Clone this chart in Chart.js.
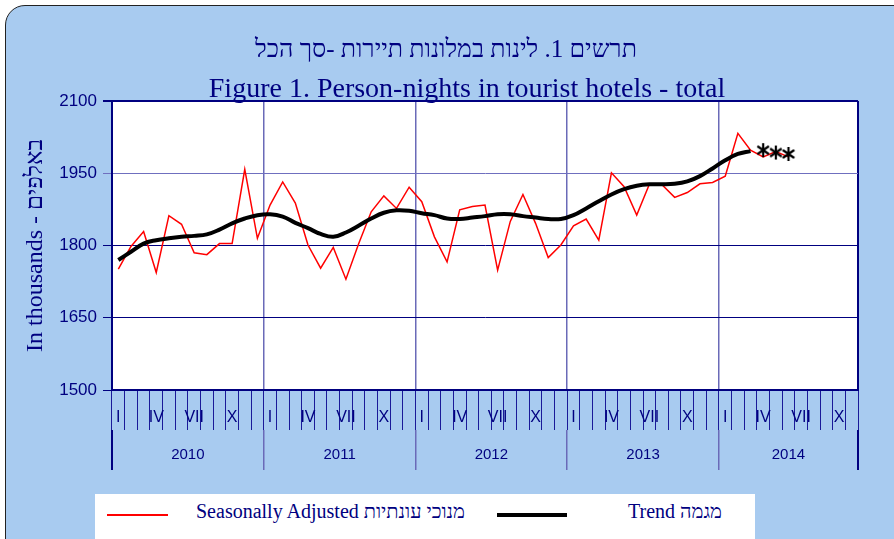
<!DOCTYPE html>
<html>
<head>
<meta charset="utf-8">
<script src="https://cdn.jsdelivr.net/npm/chart.js@4.4.0/dist/chart.umd.min.js"></script>
<style>
  html, body { margin: 0; padding: 0; background: #fff; }
  body { width: 894px; height: 539px; overflow: hidden; position: relative; }
  #frame { position: absolute; left: 5px; top: 5px; width: 910px; height: 600px; background: #A8CBF0;
           border: 1.5px solid #222; border-radius: 20px; box-sizing: border-box; }
  #chart { position: absolute; left: 0; top: 0; }
  .ttl { position: absolute; white-space: nowrap; color: #000080; transform: translate(-50%, -50%);
         font-family: "Liberation Serif", "Times New Roman", serif; line-height: 1; }
  #legend { position: absolute; left: 95px; top: 494px; width: 660px; height: 60px; background: #fff;
            font-family: "Liberation Serif", "Times New Roman", serif; font-size: 20px; color: #000080; }
  #legend .ln { position: absolute; }
  #legend .tx { position: absolute; top: 6px; white-space: nowrap; }
</style>
</head>
<body>
<div id="frame"></div>
<canvas id="chart" width="894" height="539"></canvas>
<div class="ttl" dir="rtl" style="left:446px; top:48px; font-size:25px;">תרשים 1. לינות במלונות תיירות -סך הכל</div>
<div class="ttl" style="left:467px; top:88px; font-size:28px;">Figure 1. Person-nights in tourist hotels - total</div>
<div id="legend">
  <div class="ln" style="left:12px; top:20px; width:61px; height:1.5px; background:#ff0000;"></div>
  <div class="tx" style="left:101px;">Seasonally Adjusted מנוכי עונתיות</div>
  <div class="ln" style="left:402px; top:19px; width:70px; height:4px; background:#000;"></div>
  <div class="tx" style="left:533px;">Trend מגמה</div>
</div>
<script>
// months / years on the x axis (2014 runs to November)
var monthNames = ['I', 'II', 'III', 'IV', 'V', 'VI', 'VII', 'VIII', 'IX', 'X', 'XI', 'XII'];
var shownMonths = ['I', 'IV', 'VII', 'X'];
var years = ['2010', '2011', '2012', '2013', '2014'];
var monthsPerYear = [12, 12, 12, 12, 11];

// y ticks
var yMin = 1500, yMax = 2100, yStep = 150;

// seasonally adjusted series, Jan 2010 - Jun 2014 (thousands)
var seasonal = [
  1751, 1798, 1829, 1744, 1862, 1844, 1785, 1781, 1804, 1804, 1958, 1815,
  1884, 1932, 1888, 1801, 1753, 1796, 1730, 1803, 1870, 1903, 1877, 1921,
  1891, 1818, 1766, 1874, 1881, 1884, 1749, 1850, 1906, 1846, 1775, 1801,
  1841, 1855, 1811, 1951, 1922, 1863, 1927, 1926, 1900, 1910, 1928, 1931,
  1944, 2033, 1998, 1984, 1995, 1984
];

// trend, Jan 2010 - Mar 2014
var trend = [
  1770, 1787, 1804, 1811, 1815, 1818, 1820, 1823, 1833, 1846, 1856, 1863,
  1865, 1860, 1847, 1836, 1824, 1818, 1827, 1841, 1856, 1868, 1873, 1872,
  1867, 1863, 1856, 1855, 1858, 1861, 1865, 1865, 1861, 1858, 1855, 1855,
  1863, 1877, 1892, 1906, 1917, 1924, 1927, 1927, 1928, 1933, 1944, 1960,
  1977, 1990, 1996
];

// provisional trend (asterisks), Apr - Jun 2014
var trendProvisional = [1998, 1993, 1990];

var navy = '#000080';
var yearLine = '#6a6ab8';

var labels = [];
years.forEach(function (y, yi) {
  for (var m = 0; m < monthsPerYear[yi]; m++) labels.push(monthNames[m]);
});
var nCat = labels.length;

var provData = trend.map(function () { return null; }).concat(trendProvisional);

// year boundaries and year centres on a linear axis matching the categories
var yearTicks = [];
var yearLabelAt = {};
var start = -0.5;
yearTicks.push(start);
years.forEach(function (y, yi) {
  var centre = start + monthsPerYear[yi] / 2;
  yearLabelAt[centre] = y;
  yearTicks.push(centre);
  start += monthsPerYear[yi];
  yearTicks.push(start);
});
function isBoundary(v) { return yearLabelAt[v] === undefined; }

// six-armed asterisk for the provisional points
function makeAsterisk() {
  var c = document.createElement('canvas');
  c.width = 16; c.height = 16;
  var g = c.getContext('2d');
  g.strokeStyle = '#000';
  g.lineWidth = 2.2;
  [90, 35, 145].forEach(function (a) {
    var r = a * Math.PI / 180;
    g.beginPath();
    g.moveTo(8 - 7 * Math.cos(r), 8 - 7 * Math.sin(r));
    g.lineTo(8 + 7 * Math.cos(r), 8 + 7 * Math.sin(r));
    g.stroke();
  });
  return c;
}

var whiteArea = {
  id: 'whiteArea',
  beforeDraw: function (chart) {
    var a = chart.chartArea, ctx = chart.ctx;
    ctx.save();
    ctx.fillStyle = '#fff';
    ctx.fillRect(a.left, a.top, a.right - a.left, a.bottom - a.top);
    ctx.restore();
  }
};

var chart = new Chart(document.getElementById('chart'), {
  type: 'line',
  data: {
    labels: labels,
    datasets: [
      {
        label: 'Seasonally Adjusted מנוכי עונתיות',
        data: seasonal,
        borderColor: '#ff0000',
        borderWidth: 1.5,
        pointRadius: 0,
        tension: 0,
        order: 2
      },
      {
        label: 'Trend מגמה',
        data: trend,
        borderColor: '#000',
        borderWidth: 4,
        pointRadius: 0,
        tension: 0.4,
        order: 1
      },
      {
        label: 'Trend (provisional)',
        data: provData,
        showLine: false,
        pointStyle: makeAsterisk(),
        pointRadius: 8,
        borderColor: '#000',
        backgroundColor: '#000',
        order: 0
      }
    ]
  },
  options: {
    responsive: false,
    animation: false,
    layout: { padding: { left: 0, right: 36, top: 101, bottom: 59 } },
    plugins: {
      legend: { display: false },
      tooltip: { enabled: false }
    },
    scales: {
      x: {
        type: 'category',
        offset: true,
        position: 'bottom',
        grid: { offset: true, drawOnChartArea: false, tickLength: 40, color: '#1a1a99', lineWidth: 1 },
        border: { color: navy, width: 2 },
        ticks: {
          autoSkip: false,
          maxRotation: 0,
          padding: -22,
          color: navy,
          font: { family: '"Liberation Sans", Arial, sans-serif', size: 16 },
          callback: function (v, i) {
            var m = labels[i];
            return shownMonths.indexOf(m) >= 0 ? m : '';
          }
        },
        afterFit: function (s) { s.height = 40; }
      },
      x2: {
        type: 'linear',
        position: 'bottom',
        min: -0.5,
        max: nCat - 0.5,
        afterBuildTicks: function (s) {
          s.ticks = yearTicks.map(function (v) { return { value: v }; });
        },
        grid: {
          drawOnChartArea: true,
          tickLength: 40,
          color: function (c) {
            if (!c.tick) return 'transparent';
            var v = c.tick.value;
            if (!isBoundary(v)) return 'transparent';
            if (v === -0.5 || v === nCat - 0.5) return navy;
            return yearLine;
          },
          lineWidth: function (c) {
            if (!c.tick) return 1;
            var v = c.tick.value;
            return (v === -0.5 || v === nCat - 0.5) ? 2 : 1.5;
          }
        },
        border: { display: false },
        ticks: {
          autoSkip: false,
          maxRotation: 0,
          padding: -24,
          color: navy,
          font: { family: '"Liberation Sans", Arial, sans-serif', size: 15 },
          callback: function (v) { return yearLabelAt[v] || ''; }
        },
        afterFit: function (s) { s.height = 50; }
      },
      y: {
        min: yMin,
        max: yMax,
        ticks: {
          stepSize: yStep,
          padding: 6,
          color: navy,
          font: { family: '"Liberation Sans", Arial, sans-serif', size: 17 },
          callback: function (v) { return String(v); }
        },
        grid: {
          tickLength: 9,
          color: function (c) { return c.tick && c.tick.value === 1950 ? '#6f6fbf' : navy; },
          lineWidth: function (c) { return c.tick && c.tick.value === yMax ? 2 : 1; }
        },
        border: { color: navy, width: 2 },
        title: {
          display: true,
          text: 'In thousands - באלפים',
          color: navy,
          font: { family: '"Liberation Serif", "Times New Roman", serif', size: 24, weight: 'normal' },
          padding: { top: 21, bottom: 0 }
        },
        afterFit: function (s) { s.width = 112; }
      }
    }
  },
  plugins: [whiteArea]
});
</script>
</body>
</html>
